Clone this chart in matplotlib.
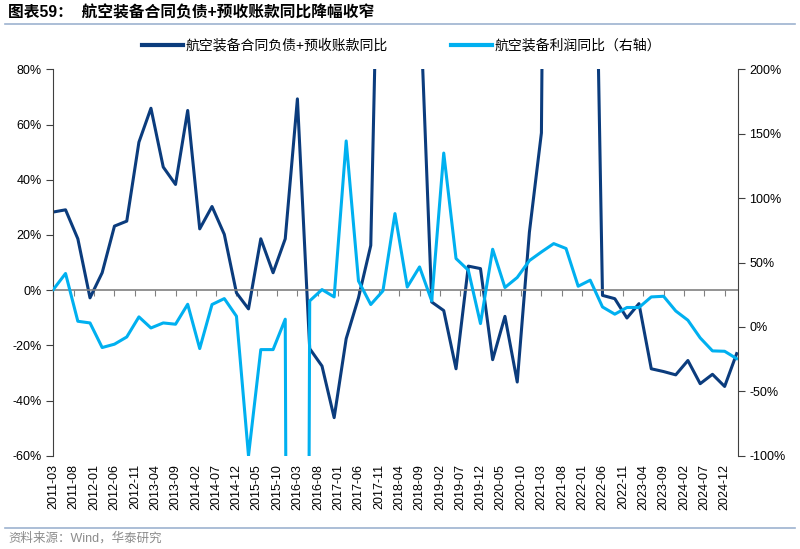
import pandas as pd
import matplotlib
matplotlib.use('Agg')
import matplotlib.pyplot as plt
import matplotlib.dates as mdates
import matplotlib.transforms as mtransforms
from matplotlib.lines import Line2D

# 字体：数字用 Liberation Sans，中文回落到 Noto Sans CJK SC
plt.rcParams['font.family'] = ['Liberation Sans', 'Noto Sans CJK SC']
plt.rcParams['axes.unicode_minus'] = False

# 季度数据 2011-03 ~ 2025-03
dates = pd.date_range('2011-03-01', '2025-03-01', freq='3MS')

# 航空装备合同负债+预收账款同比（左轴, %）
debt_yoy = [28.3, 29.1, 18.6, -2.8, 6.3, 23.2, 25.0, 53.6, 65.9, 44.6,
            38.3, 65.1, 22.2, 30.3, 20.2, -1.0, -6.8, 18.6, 6.3, 18.6,
            69.3, -21.2, -27.5, -46.2, -17.6, -2.8, 16.2, 215, 180, 150,
            110, -4.3, -7.4, -28.5, 8.7, 7.8, -25.2, -9.5, -33.3, 21.0,
            57.0, 600, 400, 300, 250, -1.9, -3.1, -10.1, -4.9, -28.5,
            -29.5, -30.7, -25.5, -33.9, -30.5, -34.9, -23.0]

# 航空装备利润同比（右轴, %）
profit_yoy = [29, 41.5, 4.4, 3.1, -16, -13.4, -7.8, 7.8, -0.8, 3.1,
              2.1, 17.6, -16.8, 17.4, 22, 8.3, -100, -17.6, -17.6, 6.0,
              -2500, 20.2, 29, 23.3, 144.4, 35.7, 17.4, 28, 88, 31,
              46.6, 20.2, 135, 53.1, 44, 2.6, 60.3, 30.6, 38.4, 51.5,
              58.2, 64.7, 60.9, 31.6, 36.3, 15.5, 9.9, 15.1, 15.1, 23.3,
              23.8, 12.4, 5.2, -8.5, -18.6, -18.9, -24.6]

tick_labels = ['2011-03', '2011-08', '2012-01', '2012-06', '2012-11', '2013-04',
               '2013-09', '2014-02', '2014-07', '2014-12', '2015-05', '2015-10',
               '2016-03', '2016-08', '2017-01', '2017-06', '2017-11', '2018-04',
               '2018-09', '2019-02', '2019-07', '2019-12', '2020-05', '2020-10',
               '2021-03', '2021-08', '2022-01', '2022-06', '2022-11', '2023-04',
               '2023-09', '2024-02', '2024-07', '2024-12']
left_ticks = [-60, -40, -20, 0, 20, 40, 60, 80]
right_ticks = [-100, -50, 0, 50, 100, 150, 200]

dark = '#0B3C7D'
light = '#00B0F0'
axis_col = '#404040'

fig = plt.figure(figsize=(8, 5.49), dpi=100)
ax = fig.add_axes([0.0659, 0.1699, 0.8566, 0.7038])
ax2 = ax.twinx()

ax.plot(dates, debt_yoy, color=dark, lw=2.2)
ax2.plot(dates, profit_yoy, color=light, lw=2.2)

ax.set_xlim(pd.Timestamp('2011-02-25'), pd.Timestamp('2025-03-11'))
ax.set_ylim(-60, 80)
ax.set_yticks(left_ticks)
ax.set_yticklabels([f'{v}%' for v in left_ticks])
ax2.set_ylim(-100, 200)
ax2.set_yticks(right_ticks)
ax2.set_yticklabels([f'{v}%' for v in right_ticks])

# 横轴放在 0 处
ax.spines['bottom'].set_position(('data', 0))
ax.spines['bottom'].set_color('#808080')
ax.spines['bottom'].set_linewidth(1.2)
ax.spines['top'].set_visible(False)
ax.spines['right'].set_visible(False)
ax.spines['left'].set_color(axis_col)
for s in ['top', 'bottom', 'left']:
    ax2.spines[s].set_visible(False)
ax2.spines['right'].set_color(axis_col)

tick_pos = pd.to_datetime(tick_labels, format='%Y-%m')
ax.set_xticks(tick_pos)
ax.tick_params(axis='x', direction='out', length=4, color='#808080',
               labelbottom=False)
ax.tick_params(axis='y', length=5, color=axis_col, labelsize=9, pad=3)
ax2.tick_params(axis='y', length=5, color=axis_col, labelsize=9, pad=3)

# 日期标签放在图底部
trans = mtransforms.blended_transform_factory(ax.transData, ax.transAxes)
for d, lab in zip(tick_pos, tick_labels):
    ax.text(mdates.date2num(d), -0.022, lab, transform=trans, rotation=90,
            ha='center', va='top', fontsize=9)

handles = [Line2D([], [], color=dark, lw=3), Line2D([], [], color=light, lw=3)]
fig.legend(handles, ['航空装备合同负债+预收账款同比', '航空装备利润同比（右轴）'],
           loc='center', bbox_to_anchor=(0.502, 1 - 45.7 / 549), ncol=2,
           frameon=False, fontsize=10, handlelength=2.9, handletextpad=0.2,
           columnspacing=4.6)

fig.text(0.01, 1 - 12.5 / 549, '图表59：  航空装备合同负债+预收账款同比降幅收窄',
         fontsize=11.3, fontweight='bold', va='center')
fig.add_artist(Line2D([0.006, 0.994], [1 - 24 / 549] * 2, color='#9DB3D0', lw=1.2))
fig.add_artist(Line2D([0.006, 0.994], [1 - 527.5 / 549] * 2, color='#9DB3D0', lw=1.2))
fig.text(0.01, 1 - 538 / 549, '资料来源：Wind，华泰研究', fontsize=9,
         color='#8C8C8C', va='center')

fig.savefig('out.png', dpi=100)
